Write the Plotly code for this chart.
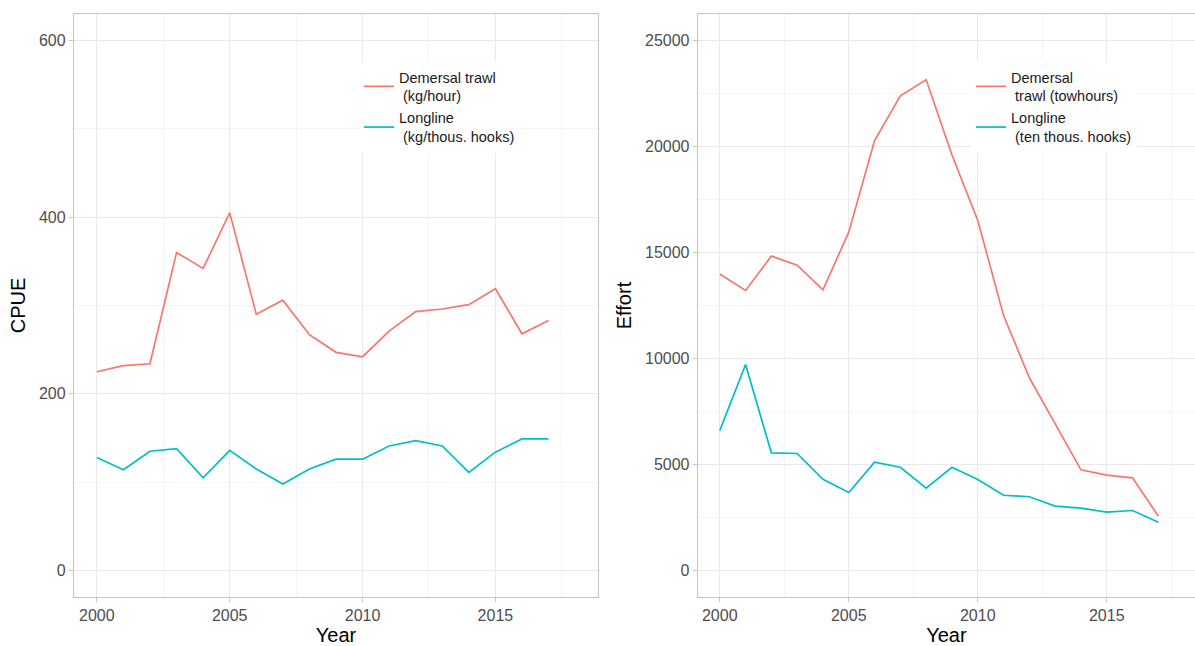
import plotly.graph_objects as go

# Survey years
years = list(range(2000, 2018))

# Catch per unit effort
cpue_trawl = [225, 232, 234, 360, 342, 405, 290, 306, 267, 247,
              242, 271, 293, 296, 301, 319, 268, 283]
cpue_longline = [128, 114, 135, 138, 105, 136, 115, 98, 115, 126,
                 126, 141, 147, 141, 111, 134, 149, 149]

# Fishing effort
effort_trawl = [13990, 13210, 14830, 14400, 13240, 15960, 20280, 22390, 23150,
                19600, 16510, 12030, 9090, 6920, 4750, 4500, 4370, 2560]
effort_longline = [6600, 9720, 5550, 5520, 4300, 3680, 5110, 4870, 3880,
                   4870, 4290, 3550, 3480, 3040, 2940, 2750, 2830, 2280]

cpue_names = ["Demersal trawl<br>\u00a0(kg/hour)", "Longline<br>\u00a0(kg/thous. hooks)"]
effort_names = ["Demersal<br>\u00a0trawl (towhours)", "Longline<br>\u00a0(ten thous. hooks)"]

RED = "#F8766D"
CYAN = "#00BFC4"
FONT = "Arial, Liberation Sans, sans-serif"
GRID = "#e9e9e9"
MINOR = "#f4f4f4"
BORDER = "#c4c4c4"

fig = go.Figure()
fig.add_trace(go.Scatter(x=years, y=cpue_trawl, mode="lines", name=cpue_names[0],
                         line=dict(color=RED, width=1.7), xaxis="x", yaxis="y", legend="legend"))
fig.add_trace(go.Scatter(x=years, y=cpue_longline, mode="lines", name=cpue_names[1],
                         line=dict(color=CYAN, width=1.7), xaxis="x", yaxis="y", legend="legend"))
fig.add_trace(go.Scatter(x=years, y=effort_trawl, mode="lines", name=effort_names[0],
                         line=dict(color=RED, width=1.7), xaxis="x2", yaxis="y2", legend="legend2"))
fig.add_trace(go.Scatter(x=years, y=effort_longline, mode="lines", name=effort_names[1],
                         line=dict(color=CYAN, width=1.7), xaxis="x2", yaxis="y2", legend="legend2"))

tickfont = dict(family=FONT, size=16, color="#4d4d4d")
titlefont = dict(family=FONT, size=20, color="#000000")


def xaxis(domain, rng, anchor, mirror):
    return dict(domain=domain, range=rng, anchor=anchor, tick0=2000, dtick=5,
                showgrid=True, gridcolor=GRID, gridwidth=1,
                minor=dict(tick0=2000, dtick=2.5, showgrid=True, gridcolor=MINOR, gridwidth=1),
                showline=True, linecolor=BORDER, linewidth=1.3, mirror=mirror,
                ticks="outside", ticklen=4, tickcolor=BORDER, tickwidth=1,
                tickfont=tickfont, zeroline=False,
                title=dict(text="Year", font=titlefont, standoff=5))


def yaxis(rng, dtick, anchor, mirror, title):
    return dict(domain=[0, 1], range=rng, anchor=anchor, tick0=0, dtick=dtick,
                tickformat="d",
                showgrid=True, gridcolor=GRID, gridwidth=1,
                minor=dict(tick0=0, dtick=dtick / 2, showgrid=True, gridcolor=MINOR, gridwidth=1),
                showline=True, linecolor=BORDER, linewidth=1.3, mirror=mirror,
                ticks="outside", ticklen=4, tickcolor=BORDER, tickwidth=1,
                tickfont=tickfont, zeroline=False,
                title=dict(text=title, font=titlefont, standoff=7))


legend_style = dict(font=dict(family=FONT, size=14.5, color="#1a1a1a"), bgcolor="#ffffff",
                    borderwidth=0, xanchor="left", yanchor="top",
                    itemwidth=30)

fig.update_layout(
    width=1195, height=646,
    margin=dict(l=74, r=0, t=14, b=49),
    paper_bgcolor="#ffffff", plot_bgcolor="#ffffff",
    xaxis=xaxis([0, 0.4674], [1999.14, 2018.86], "y", True),
    yaxis=yaxis([-30, 630], 200, "x", True, "CPUE"),
    xaxis2=xaxis([0.5565, 1.0], [1999.15, 2018.42], "y2", True),
    yaxis2=yaxis([-1250, 26250], 5000, "x2", False, "Effort"),
    legend=dict(x=(359 - 74) / 1121, y=(646 - 49 - 61) / 583, **legend_style),
    legend2=dict(x=(971 - 74) / 1121, y=(646 - 49 - 61) / 583, **legend_style),
    showlegend=True,
)

fig.write_html("out.html")
